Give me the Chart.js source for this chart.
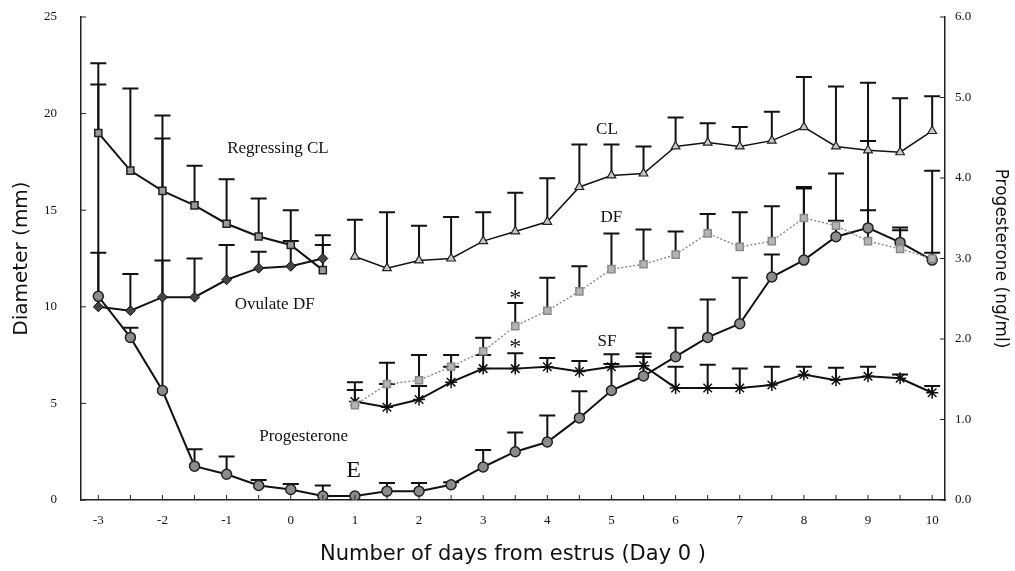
<!DOCTYPE html>
<html lang="en">
<head>
<meta charset="UTF-8">
<title>Diameter and progesterone around estrus</title>
<script src="https://cdn.jsdelivr.net/npm/chart.js"></script>
<style>
  html, body { margin: 0; padding: 0; background: #fff; }
  #wrap { width: 1015px; height: 571px; }
</style>
</head>
<body>
<div id="wrap"><canvas id="chart"></canvas></div>
<script>
// days from estrus
const daysBefore = [-3, -2.5, -2, -1.5, -1, -0.5, 0, 0.5];
const daysAfter = [1, 1.5, 2, 2.5, 3, 3.5, 4, 4.5, 5, 5.5, 6, 6.5, 7, 7.5, 8, 8.5, 9, 9.5, 10];
const daysAll = daysBefore.concat(daysAfter);

// diameters (mm), mean and top of the error bar
const regressingCL = [19.0, 17.05, 16.0, 15.25, 14.3, 13.64, 13.2, 11.9];
const regressingCLTop = [22.6, 21.3, 19.9, 17.3, 16.6, 15.6, 15.0, 13.7];
const ovulateDF = [10.0, 9.8, 10.5, 10.5, 11.4, 12.0, 12.1, 12.5];
const ovulateDFTop = [12.8, 11.7, 12.4, 12.5, 13.2, 12.85, 13.4, 13.2];
const cl = [12.6, 12.0, 12.4, 12.5, 13.4, 13.9, 14.4, 16.2, 16.8, 16.9, 18.3, 18.5, 18.3, 18.6, 19.3, 18.3, 18.1, 18.0, 19.1];
const clTop = [14.5, 14.9, 14.2, 14.65, 14.9, 15.9, 16.65, 18.4, 18.4, 18.3, 19.8, 19.5, 19.3, 20.1, 21.9, 21.4, 21.6, 20.8, 20.9];
const df = [4.9, 6.0, 6.2, 6.9, 7.7, 9.0, 9.8, 10.8, 11.95, 12.2, 12.7, 13.8, 13.1, 13.4, 14.6, 14.2, 13.4, 13.0, 12.5];
const dfTop = [6.1, 7.1, 7.5, 7.5, 8.4, 10.2, 11.5, 12.1, 13.8, 14.0, 13.9, 14.8, 14.9, 15.2, 16.2, 16.9, 15.0, 14.1, 12.8];
const sf = [5.1, 4.8, 5.2, 6.1, 6.8, 6.8, 6.9, 6.65, 6.9, 6.95, 5.8, 5.8, 5.8, 5.95, 6.5, 6.2, 6.4, 6.3, 5.55];
const sfTop = [5.7, 6.0, 5.9, 6.9, 7.5, 7.6, 7.35, 7.2, 7.55, 7.4, 6.9, 7.0, 6.8, 6.9, 6.9, 6.85, 6.9, 6.5, 5.9];

// progesterone (ng/ml)
const progesterone = [2.53, 2.02, 1.36, 0.42, 0.32, 0.18, 0.13, 0.05, 0.05, 0.11, 0.11, 0.19, 0.41, 0.6, 0.72, 1.02, 1.36, 1.54, 1.78, 2.02, 2.19, 2.77, 2.98, 3.27, 3.38, 3.2, 2.98];
const progesteroneTop = [5.16, 2.14, 4.49, 0.63, 0.54, 0.25, 0.2, 0.18, null, 0.21, 0.21, 0.22, 0.62, 0.84, 1.05, 1.35, 1.69, 1.82, 2.14, 2.49, 2.76, 3.05, 3.87, 3.47, 4.46, 3.35, 4.09];

// axis ticks
const dayTicks = [-3, -2, -1, 0, 1, 2, 3, 4, 5, 6, 7, 8, 9, 10];
const diameterTicks = [0, 5, 10, 15, 20, 25];
const progTicks = [0, 1, 2, 3, 4, 5, 6];

// text on the plot: [label, day, diameter]
const notes = [
  ['Regressing CL', -0.2, 18.2],
  ['Ovulate DF', -0.25, 10.1],
  ['Progesterone', 0.2, 3.3],
  ['CL', 4.93, 19.2],
  ['DF', 5.0, 14.6],
  ['SF', 4.93, 8.2]
];
const marks = [
  ['*', 3.5, 10.4],
  ['*', 3.5, 7.9],
  ['E', 0.98, 1.5]
];

const pts = (xs, ys) => xs.map((x, i) => ({ x: x, y: ys[i] }));

const errorBars = {
  id: 'errorBars',
  beforeDatasetsDraw(chart) {
    const ctx = chart.ctx;
    chart.data.datasets.forEach((ds, i) => {
      if (!ds.upper) return;
      const meta = chart.getDatasetMeta(i);
      const ys = chart.scales[ds.yAxisID];
      ctx.save();
      ctx.strokeStyle = '#111';
      ctx.lineWidth = 2;
      meta.data.forEach((pt, j) => {
        const top = ds.upper[j];
        if (top == null) return;
        const yTop = ys.getPixelForValue(top);
        ctx.beginPath();
        ctx.moveTo(pt.x, pt.y);
        ctx.lineTo(pt.x, yTop);
        ctx.moveTo(pt.x - 8, yTop);
        ctx.lineTo(pt.x + 8, yTop);
        ctx.stroke();
      });
      ctx.restore();
    });
  }
};

const extras = {
  id: 'extras',
  afterDraw(chart) {
    const ctx = chart.ctx;
    const xs = chart.scales.x, y = chart.scales.y, y2 = chart.scales.y2;
    ctx.save();
    ctx.strokeStyle = '#222';
    ctx.lineWidth = 1;
    // inward tick marks
    for (let d = -3; d <= 10; d += 0.5) {
      const px = xs.getPixelForValue(d);
      ctx.beginPath(); ctx.moveTo(px, xs.top); ctx.lineTo(px, xs.top - 5); ctx.stroke();
    }
    diameterTicks.forEach(v => {
      const py = y.getPixelForValue(v);
      ctx.beginPath(); ctx.moveTo(y.right, py); ctx.lineTo(y.right + 5, py); ctx.stroke();
    });
    progTicks.forEach(v => {
      const py = y2.getPixelForValue(v);
      ctx.beginPath(); ctx.moveTo(y2.left, py); ctx.lineTo(y2.left - 5, py); ctx.stroke();
    });
    ctx.fillStyle = '#111';
    ctx.textAlign = 'center';
    ctx.textBaseline = 'middle';
    ctx.font = '17px "Liberation Serif", serif';
    notes.forEach(n => ctx.fillText(n[0], xs.getPixelForValue(n[1]), y.getPixelForValue(n[2])));
    ctx.font = '24px "Liberation Serif", serif';
    marks.forEach(n => ctx.fillText(n[0], xs.getPixelForValue(n[1]), y.getPixelForValue(n[2])));
    ctx.restore();
  }
};

const tickFont = { family: '"Liberation Serif", serif', size: 13 };
const titleFamily = '"DejaVu Sans", "Liberation Sans", sans-serif';

// fixed axis sizes so the plot area sits where the original one does
function fitSide(w) {
  return s => { s.width = w; s.paddingTop = 0; s.paddingBottom = 0; };
}

new Chart(document.getElementById('chart'), {
  type: 'line',
  data: {
    datasets: [
      {
        label: 'Regressing CL', yAxisID: 'y',
        data: pts(daysBefore, regressingCL), upper: regressingCLTop,
        borderColor: '#111', borderWidth: 2,
        pointStyle: 'rect', pointRadius: 5, pointBackgroundColor: '#9a9a9a', pointBorderColor: '#222', pointBorderWidth: 1.5
      },
      {
        label: 'Ovulate DF', yAxisID: 'y',
        data: pts(daysBefore, ovulateDF), upper: ovulateDFTop,
        borderColor: '#111', borderWidth: 2,
        pointStyle: 'rectRot', pointRadius: 5, pointBackgroundColor: '#444', pointBorderColor: '#111', pointBorderWidth: 1
      },
      {
        label: 'CL', yAxisID: 'y',
        data: pts(daysAfter, cl), upper: clTop,
        borderColor: '#111', borderWidth: 1.5,
        pointStyle: 'triangle', pointRadius: 5, pointBackgroundColor: '#c8c8c8', pointBorderColor: '#222', pointBorderWidth: 1.2
      },
      {
        label: 'DF', yAxisID: 'y',
        data: pts(daysAfter, df), upper: dfTop,
        borderColor: '#8c8c8c', borderWidth: 1.5, borderDash: [2, 2],
        pointStyle: 'rect', pointRadius: 5, pointBackgroundColor: '#b4b4b4', pointBorderColor: '#8a8a8a', pointBorderWidth: 1.5
      },
      {
        label: 'SF', yAxisID: 'y',
        data: pts(daysAfter, sf), upper: sfTop,
        borderColor: '#111', borderWidth: 2,
        pointStyle: 'star', pointRadius: 6, pointBorderColor: '#111', pointBorderWidth: 1.5
      },
      {
        label: 'Progesterone', yAxisID: 'y2',
        data: pts(daysAll, progesterone), upper: progesteroneTop,
        borderColor: '#111', borderWidth: 2,
        pointStyle: 'circle', pointRadius: 5, pointBackgroundColor: '#8c8c8c', pointBorderColor: '#222', pointBorderWidth: 1.5
      }
    ]
  },
  options: {
    responsive: true,
    maintainAspectRatio: false,
    animation: false,
    layout: { padding: { top: 17, left: 0, right: 0, bottom: 0 } },
    plugins: { legend: { display: false }, tooltip: { enabled: false } },
    scales: {
      x: {
        type: 'linear', min: -3.27, max: 10.2,
        afterBuildTicks: s => { s.ticks = dayTicks.map(v => ({ value: v })); },
        afterFit: s => { s.height = 71; },
        grid: { display: false, drawTicks: false },
        border: { display: true, color: '#222', width: 1.5 },
        ticks: { color: '#111', font: tickFont, padding: 13, maxRotation: 0, autoSkip: false },
        title: { display: true, text: 'Number of days from estrus (Day 0 )', color: '#111', font: { family: titleFamily, size: 21 }, padding: { top: 4, bottom: 4 } }
      },
      y: {
        type: 'linear', position: 'left', min: 0, max: 25,
        afterBuildTicks: s => { s.ticks = diameterTicks.map(v => ({ value: v })); },
        afterFit: fitSide(81),
        grid: { display: false, drawTicks: false },
        border: { display: true, color: '#222', width: 1.5 },
        ticks: { color: '#111', font: tickFont, padding: 24 },
        title: { display: true, text: 'Diameter (mm)', color: '#111', font: { family: titleFamily, size: 20 }, padding: { top: 10, bottom: 4 } }
      },
      y2: {
        type: 'linear', position: 'right', min: 0, max: 6,
        afterBuildTicks: s => { s.ticks = progTicks.map(v => ({ value: v })); },
        afterFit: fitSide(70),
        grid: { display: false, drawTicks: false },
        border: { display: true, color: '#222', width: 1.5 },
        ticks: { color: '#111', font: tickFont, padding: 10, callback: v => v.toFixed(1) },
        title: { display: true, text: 'Progesterone (ng/ml)', color: '#111', font: { family: titleFamily, size: 17 }, padding: { top: 4, bottom: 4 } }
      }
    }
  },
  plugins: [errorBars, extras]
});
</script>
</body>
</html>
